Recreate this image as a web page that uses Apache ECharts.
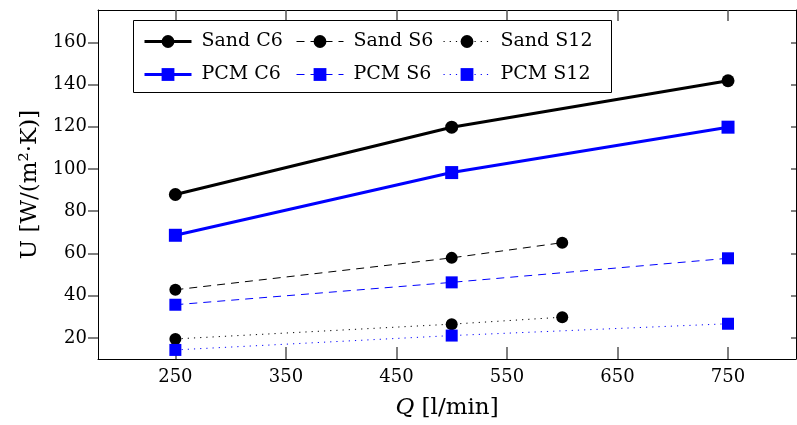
<!DOCTYPE html>
<html>
<head>
<meta charset="utf-8">
<script src="https://cdn.jsdelivr.net/npm/echarts@6/dist/echarts.min.js"></script>
<style>
  html, body { margin: 0; padding: 0; background: #fff; }
  #chart { width: 797px; height: 425px; }
</style>
</head>
<body>
<div id="chart"></div>
<script>
  // flow rate Q [l/min]
  const qSand = [250, 500, 600];
  const qSandC6 = [250, 500, 750];
  const qPcm = [250, 500, 750];

  // U [W/(m2.K)]
  const sandC6 = [87.9, 119.8, 141.8];
  const pcmC6 = [68.6, 98.3, 119.8];
  const sandS6 = [42.8, 57.9, 65.1];
  const pcmS6 = [35.7, 46.3, 57.7];
  const sandS12 = [19.5, 26.5, 29.8];
  const pcmS12 = [14.3, 21.1, 26.7];

  const xTicks = [250, 350, 450, 550, 650, 750];
  const yTicks = [20, 40, 60, 80, 100, 120, 140, 160];

  const X_MIN = 180, X_MAX = 811.5;
  const Y_MIN = 10, Y_MAX = 175.3;

  const FONT = 'DejaVu Serif';
  const BLUE = '#0000ff';
  const TICK = '#555';
  const pairs = (xs, ys) => xs.map((x, i) => [x, ys[i]]);

  const chart = echarts.init(document.getElementById('chart'));

  const mkSeries = (name, xs, ys, color, symbol, size, width, type) => ({
    name,
    type: 'line',
    data: pairs(xs, ys),
    symbol,
    symbolSize: size,
    showSymbol: true,
    lineStyle: { color, width, type },
    itemStyle: { color, borderWidth: 0 }
  });

  const legendItem = (name, width) => ({ name, lineStyle: { width } });

  const legendCol = (left, data) => ({
    orient: 'vertical',
    left,
    top: 32,
    z: 10,
    padding: 0,
    itemWidth: 47,
    itemHeight: 16,
    itemGap: 14,
    selectedMode: false,
    data,
    textStyle: { fontFamily: FONT, fontSize: 19, color: '#000', padding: [0, 0, 0, 5] }
  });

  const tick = (values, inside, length) => ({
    show: true, inside, length, customValues: values,
    lineStyle: { color: TICK, width: 1.5 }
  });

  const baseAxis = (extra) => Object.assign({
    type: 'value',
    splitLine: { show: false },
    axisLine: { show: true, lineStyle: { color: '#000', width: 1 } }
  }, extra);

  chart.setOption({
    animation: false,
    grid: { left: 98, top: 10, right: 1, bottom: 65 },
    graphic: [{
      type: 'rect',
      shape: { x: 133.5, y: 20.5, width: 478, height: 72 },
      style: { fill: '#fff', stroke: '#000', lineWidth: 1 },
      z: 5
    }],
    legend: [
      legendCol(143, [legendItem('Sand C6', 3), legendItem('PCM C6', 3)]),
      legendCol(296, [legendItem('Sand S6', 1), legendItem('PCM S6', 1)]),
      legendCol(443, [legendItem('Sand S12', 1), legendItem('PCM S12', 1)])
    ],
    xAxis: [
      baseAxis({
        min: X_MIN, max: X_MAX,
        name: '{i|Q} [l/min]',
        nameLocation: 'middle',
        nameGap: 38,
        nameTextStyle: {
          fontFamily: FONT, fontSize: 23, color: '#000',
          rich: { i: { fontFamily: FONT, fontSize: 23, fontStyle: 'italic', color: '#000' } }
        },
        axisTick: tick(xTicks, true, 12),
        axisLabel: { customValues: xTicks, margin: 9, fontFamily: FONT, fontSize: 18, color: '#000' }
      }),
      baseAxis({
        position: 'top',
        min: X_MIN, max: X_MAX,
        axisTick: tick(xTicks, true, 11),
        axisLabel: { show: false, customValues: xTicks }
      })
    ],
    yAxis: [
      baseAxis({
        min: Y_MIN, max: Y_MAX,
        name: 'U [W/(m²·K)]',
        nameLocation: 'middle',
        nameGap: 56,
        nameTextStyle: { fontFamily: FONT, fontSize: 23, color: '#000' },
        axisTick: tick(yTicks, false, 10),
        axisLabel: { customValues: yTicks, margin: 11, fontFamily: FONT, fontSize: 18, color: '#000' }
      }),
      baseAxis({
        position: 'right',
        min: Y_MIN, max: Y_MAX,
        axisTick: tick(yTicks, true, 5),
        axisLabel: { show: false, customValues: yTicks }
      })
    ],
    series: [
      mkSeries('Sand C6', qSandC6, sandC6, '#000', 'circle', 13, 3, 'solid'),
      mkSeries('PCM C6', qPcm, pcmC6, BLUE, 'rect', 13, 3, 'solid'),
      mkSeries('Sand S6', qSand, sandS6, '#000', 'circle', 12, 1, [8, 6]),
      mkSeries('PCM S6', qPcm, pcmS6, BLUE, 'rect', 12, 1, [8, 6]),
      mkSeries('Sand S12', qSand, sandS12, '#000', 'circle', 12, 1, [1.2, 5]),
      mkSeries('PCM S12', qPcm, pcmS12, BLUE, 'rect', 12, 1, [1.2, 5])
    ]
  });
</script>
</body>
</html>
